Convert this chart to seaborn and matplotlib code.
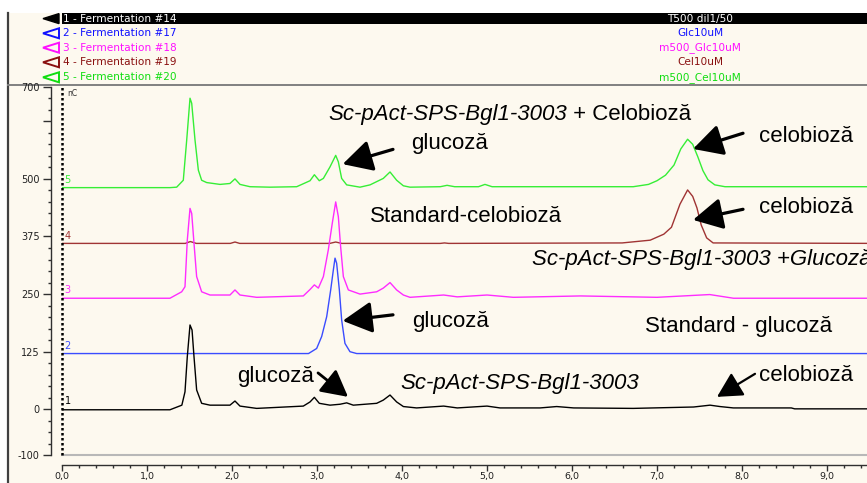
import numpy as np
import pandas as pd
import matplotlib
matplotlib.use("Agg")
import matplotlib.pyplot as plt
import seaborn as sns
from matplotlib.patches import Rectangle, Polygon
from matplotlib.lines import Line2D

# ---------------- data ----------------
trace_ids = ["1", "2", "3", "4", "5"]
trace_names = ["1 - Fermentation #14", "2 - Fermentation #17", "3 - Fermentation #18",
               "4 - Fermentation #19", "5 - Fermentation #20"]
trace_samples = ["T500 dil1/50", "Glc10uM", "m500_Glc10uM", "Cel10uM", "m500_Cel10uM"]
trace_baselines = [0, 121, 241, 360, 481]

# trace 1 (black)
t1 = [0.0, 1.27, 1.41, 1.447, 1.474, 1.506, 1.53, 1.553, 1.584, 1.643, 1.741, 1.976, 2.035,
      2.094, 2.29, 2.839, 2.918, 2.969, 3.027, 3.153, 3.271, 3.349, 3.427, 3.702, 3.78, 3.859,
      3.937, 4.016, 4.172, 4.49, 4.65, 5.0, 5.153, 5.624, 5.82, 6.02, 6.72, 7.43, 7.624,
      7.741, 7.898, 8.58, 8.62, 9.6]
v1 = [-1, -1, 9, 38, 114, 183, 172, 114, 42, 13, 9, 9, 18,
      7, 2, 7, 16, 26, 13, 9, 11, 14, 9, 13, 20, 31,
      16, 6, 3, 7, 3, 7, 3, 3, 6, 3, 2, 5, 9,
      6, 3, 3, 1, 1]

# trace 2 (blue)
t2 = [0.0, 2.90, 2.996, 3.055, 3.114, 3.161, 3.192, 3.212, 3.231, 3.263, 3.29, 3.329, 3.388,
      3.467, 9.6]
v2 = [121, 121, 132, 158, 201, 259, 302, 328, 317, 259, 194, 143, 125, 121, 121]

# trace 3 (magenta)
t3 = [0.0, 1.27, 1.408, 1.447, 1.474, 1.506, 1.526, 1.553, 1.584, 1.643, 1.741, 1.976, 2.035,
      2.094, 2.29, 2.839, 2.918, 2.969, 3.016, 3.075, 3.133, 3.18, 3.22, 3.251, 3.278, 3.31,
      3.369, 3.506, 3.702, 3.78, 3.859, 3.937, 4.016, 4.094, 4.49, 4.65, 5.0, 5.31, 6.1, 7.0,
      7.62, 7.9, 9.6]
v3 = [241, 241, 255, 266, 367, 436, 425, 360, 288, 255, 248, 248, 259,
      248, 243, 246, 260, 270, 263, 288, 346, 404, 450, 418, 353, 288,
      259, 250, 255, 263, 275, 259, 248, 243, 248, 244, 248, 243, 246, 243,
      249, 241, 241]

# trace 4 (brown)
t4 = [0.0, 1.45, 1.51, 1.58, 1.98, 2.035, 2.09, 3.15, 3.22, 3.29, 4.45, 4.5, 4.55, 6.59,
      6.92, 7.08, 7.17, 7.27, 7.36, 7.42, 7.47, 7.52, 7.584, 7.66, 9.6]
v4 = [360, 360, 364, 360, 360, 363, 360, 360, 363, 360, 360, 361, 360, 361,
      367, 380, 395, 445, 476, 462, 437, 400, 372, 361, 360]

# trace 5 (green)
t5 = [0.0, 1.271, 1.349, 1.427, 1.467, 1.506, 1.526, 1.565, 1.604, 1.643, 1.702, 1.859, 1.976,
      2.035, 2.094, 2.212, 2.447, 2.761, 2.918, 2.969, 3.027, 3.075, 3.153, 3.22, 3.251, 3.29,
      3.349, 3.506, 3.624, 3.78, 3.859, 3.937, 4.016, 4.094, 4.45, 4.53, 4.62, 4.9, 4.976,
      5.06, 6.72, 6.9, 7.0, 7.1, 7.2, 7.28, 7.36, 7.42, 7.48, 7.54, 7.6, 7.68, 7.8, 9.6]
v5 = [481, 481, 482, 497, 584, 675, 664, 584, 519, 497, 492, 488, 490,
      500, 488, 483, 482, 483, 496, 509, 496, 501, 526, 551, 537, 501,
      487, 482, 487, 501, 515, 497, 485, 482, 483, 486, 483, 483, 488,
      483, 483, 488, 496, 508, 530, 565, 586, 575, 548, 518, 498, 487, 483, 483]

x_ticks = [0, 1, 2, 3, 4, 5, 6, 7, 8, 9]
x_tick_labels = ["0,0", "1,0", "2,0", "3,0", "4,0", "5,0", "6,0", "7,0", "8,0", "9,0"]
y_ticks = [-100, 0, 125, 250, 375, 500, 625, 700]
y_tick_labels = ["-100", "0", "125", "250", "375", "500", "", "700"]

# ---------------- styling ----------------
W, H = 867, 483
CREAM = "#fdf9ef"
palette = {"1": "#000000", "2": "#3a4cff", "3": "#ff2cff", "4": "#a03434", "5": "#36ee36"}
header_colors = ["#ffffff", "#1010ff", "#ff10ff", "#8a1010", "#10dd10"]
marker_colors = ["#000000", "#1010ff", "#ff10ff", "#8a1010", "#10dd10"]
ANN_FONT = ["Liberation Sans", "DejaVu Sans"]
SMALL_FONT = ["DejaVu Sans"]

frames = []
for tid, tt, vv in zip(trace_ids, [t1, t2, t3, t4, t5], [v1, v2, v3, v4, v5]):
    frames.append(pd.DataFrame({"time": tt, "signal": vv, "trace": tid}))
df = pd.concat(frames, ignore_index=True)

fig = plt.figure(figsize=(W / 100, H / 100), dpi=100)
fig.patch.set_facecolor("white")

# background / header layer in pixel coordinates
bg = fig.add_axes([0, 0, 1, 1], zorder=0)
bg.set_xlim(0, W)
bg.set_ylim(H, 0)
bg.axis("off")
bg.add_patch(Rectangle((8, 12.7), W, H, color=CREAM, lw=0))
bg.add_line(Line2D([8, 8], [12.7, H], color="#404040", lw=1.6))
bg.add_patch(Rectangle((61.7, 12.7), W, 11.8, color="black", lw=0))
bg.add_line(Line2D([8, W], [85.3, 85.3], color="#808080", lw=1.4))

row_y = [18.6, 33.3, 47.7, 62.3, 77.3]
for i in range(5):
    y = row_y[i]
    tri = [(43, y), (59, y - 5), (59, y + 5)]
    if i == 0:
        bg.add_patch(Polygon(tri, closed=True, facecolor="black", edgecolor="black", lw=1))
    else:
        bg.add_patch(Polygon(tri, closed=True, facecolor="none",
                             edgecolor=marker_colors[i], lw=1.4))
    bg.text(63, y, trace_names[i], color=header_colors[i], fontsize=7.6,
            family=SMALL_FONT, va="center", ha="left")
    bg.text(700, y, trace_samples[i], color=header_colors[i], fontsize=7.6,
            family=SMALL_FONT, va="center", ha="center")

# main chromatogram axes
x_left_px, x_right_px = 62, W
y_top_px, y_bot_px = 86.7, 455.4
px_per_min = 85.0
ax = fig.add_axes([x_left_px / W, 1 - y_bot_px / H,
                   (x_right_px - x_left_px) / W, (y_bot_px - y_top_px) / H], zorder=1)
ax.set_facecolor("none")

sns.lineplot(data=df, x="time", y="signal", hue="trace",
             hue_order=["5", "4", "3", "2", "1"], palette=palette,
             estimator=None, sort=False, legend=False, lw=1.0, ax=ax)

ax.set_xlim(0, (x_right_px - x_left_px) / px_per_min)
ax.set_ylim(-100, 700)
ax.set_xlabel("")
ax.set_ylabel("")

for s in ["top", "right"]:
    ax.spines[s].set_visible(False)
ax.spines["left"].set_position(("outward", 8))
ax.spines["bottom"].set_position(("outward", 7))
for s in ["left", "bottom"]:
    ax.spines[s].set_color("#303030")
    ax.spines[s].set_linewidth(1.0)

ax.set_xticks(x_ticks)
ax.set_xticklabels(x_tick_labels)
ax.set_xticks(np.arange(0, 9.5, 0.2), minor=True)
ax.set_yticks(y_ticks)
ax.set_yticklabels(y_tick_labels)
ax.set_yticks(np.arange(-100, 701, 25), minor=True)
ax.tick_params(which="major", direction="out", length=6, width=1.0, color="#303030",
               labelsize=7, labelcolor="#202020", pad=2)
ax.tick_params(which="minor", direction="out", length=2.5, width=1.0, color="#303030")
ax.tick_params(axis="x", which="major", length=4, pad=0.8, labelsize=6.8)
ax.tick_params(axis="x", which="minor", length=2)
for lab in ax.get_xticklabels() + ax.get_yticklabels():
    lab.set_family(SMALL_FONT)

# plot-area frame: dotted left edge, grey bottom edge
ax.axvline(0, color="black", lw=1.8, ls=(0, (1, 1)), clip_on=False, zorder=5)
ax.axhline(-100, color="#b8b8b8", lw=1.5, clip_on=False, zorder=1)

# trace numbers at the left
for tid, base in zip(trace_ids, trace_baselines):
    ax.text(0.03, base + 17, tid, color=palette[tid], fontsize=7, family=SMALL_FONT,
            ha="left", va="center")
ax.text(0.06, 686, "nC", fontsize=5.5, family=SMALL_FONT, color="#303030",
        ha="left", va="center")

# ---------------- annotations ----------------
FS = 16
t_it = ax.text(3.13, 628, "Sc-pAct-SPS-Bgl1-3003", fontsize=FS, style="italic",
               family=ANN_FONT, ha="left", va="baseline")
ax.annotate(" + Celobioză", xy=(1, 0), xycoords=t_it, fontsize=FS, family=ANN_FONT,
            ha="left", va="bottom")

labels = [
    ("glucoză", 4.106, 577, "normal"),
    ("celobioză", 8.2, 591, "normal"),
    ("Standard-celobioză", 3.624, 418, "normal"),
    ("celobioză", 8.2, 437, "normal"),
    ("Sc-pAct-SPS-Bgl1-3003 +Glucoză", 5.53, 324, "italic"),
    ("glucoză", 4.114, 191, "normal"),
    ("Standard - glucoză", 6.859, 179, "normal"),
    ("glucoză", 2.055, 72, "normal"),
    ("Sc-pAct-SPS-Bgl1-3003", 3.976, 55, "italic"),
    ("celobioză", 8.2, 74, "normal"),
]
for txt, x, y, st in labels:
    ax.text(x, y, txt, fontsize=FS, style=st, family=ANN_FONT, ha="left", va="center",
            clip_on=False)

arrows = [
    ((3.894, 564), (3.302, 532), 40, 2.3),
    ((8.012, 599), (7.424, 565), 40, 2.3),
    ((8.012, 434), (7.424, 411), 40, 2.3),
    ((3.894, 205), (3.302, 192), 40, 2.3),
    ((3.012, 79), (3.365, 27), 36, 2.0),
    ((8.153, 77), (7.706, 27), 34, 1.6),
]
for tail, head, ms, lw in arrows:
    ax.annotate("", xy=head, xytext=tail,
                arrowprops=dict(arrowstyle="-|>,head_length=0.45,head_width=0.24",
                                mutation_scale=ms, lw=lw, color="black",
                                shrinkA=0, shrinkB=0))

fig.savefig("out.png", dpi=100, facecolor=fig.get_facecolor())
